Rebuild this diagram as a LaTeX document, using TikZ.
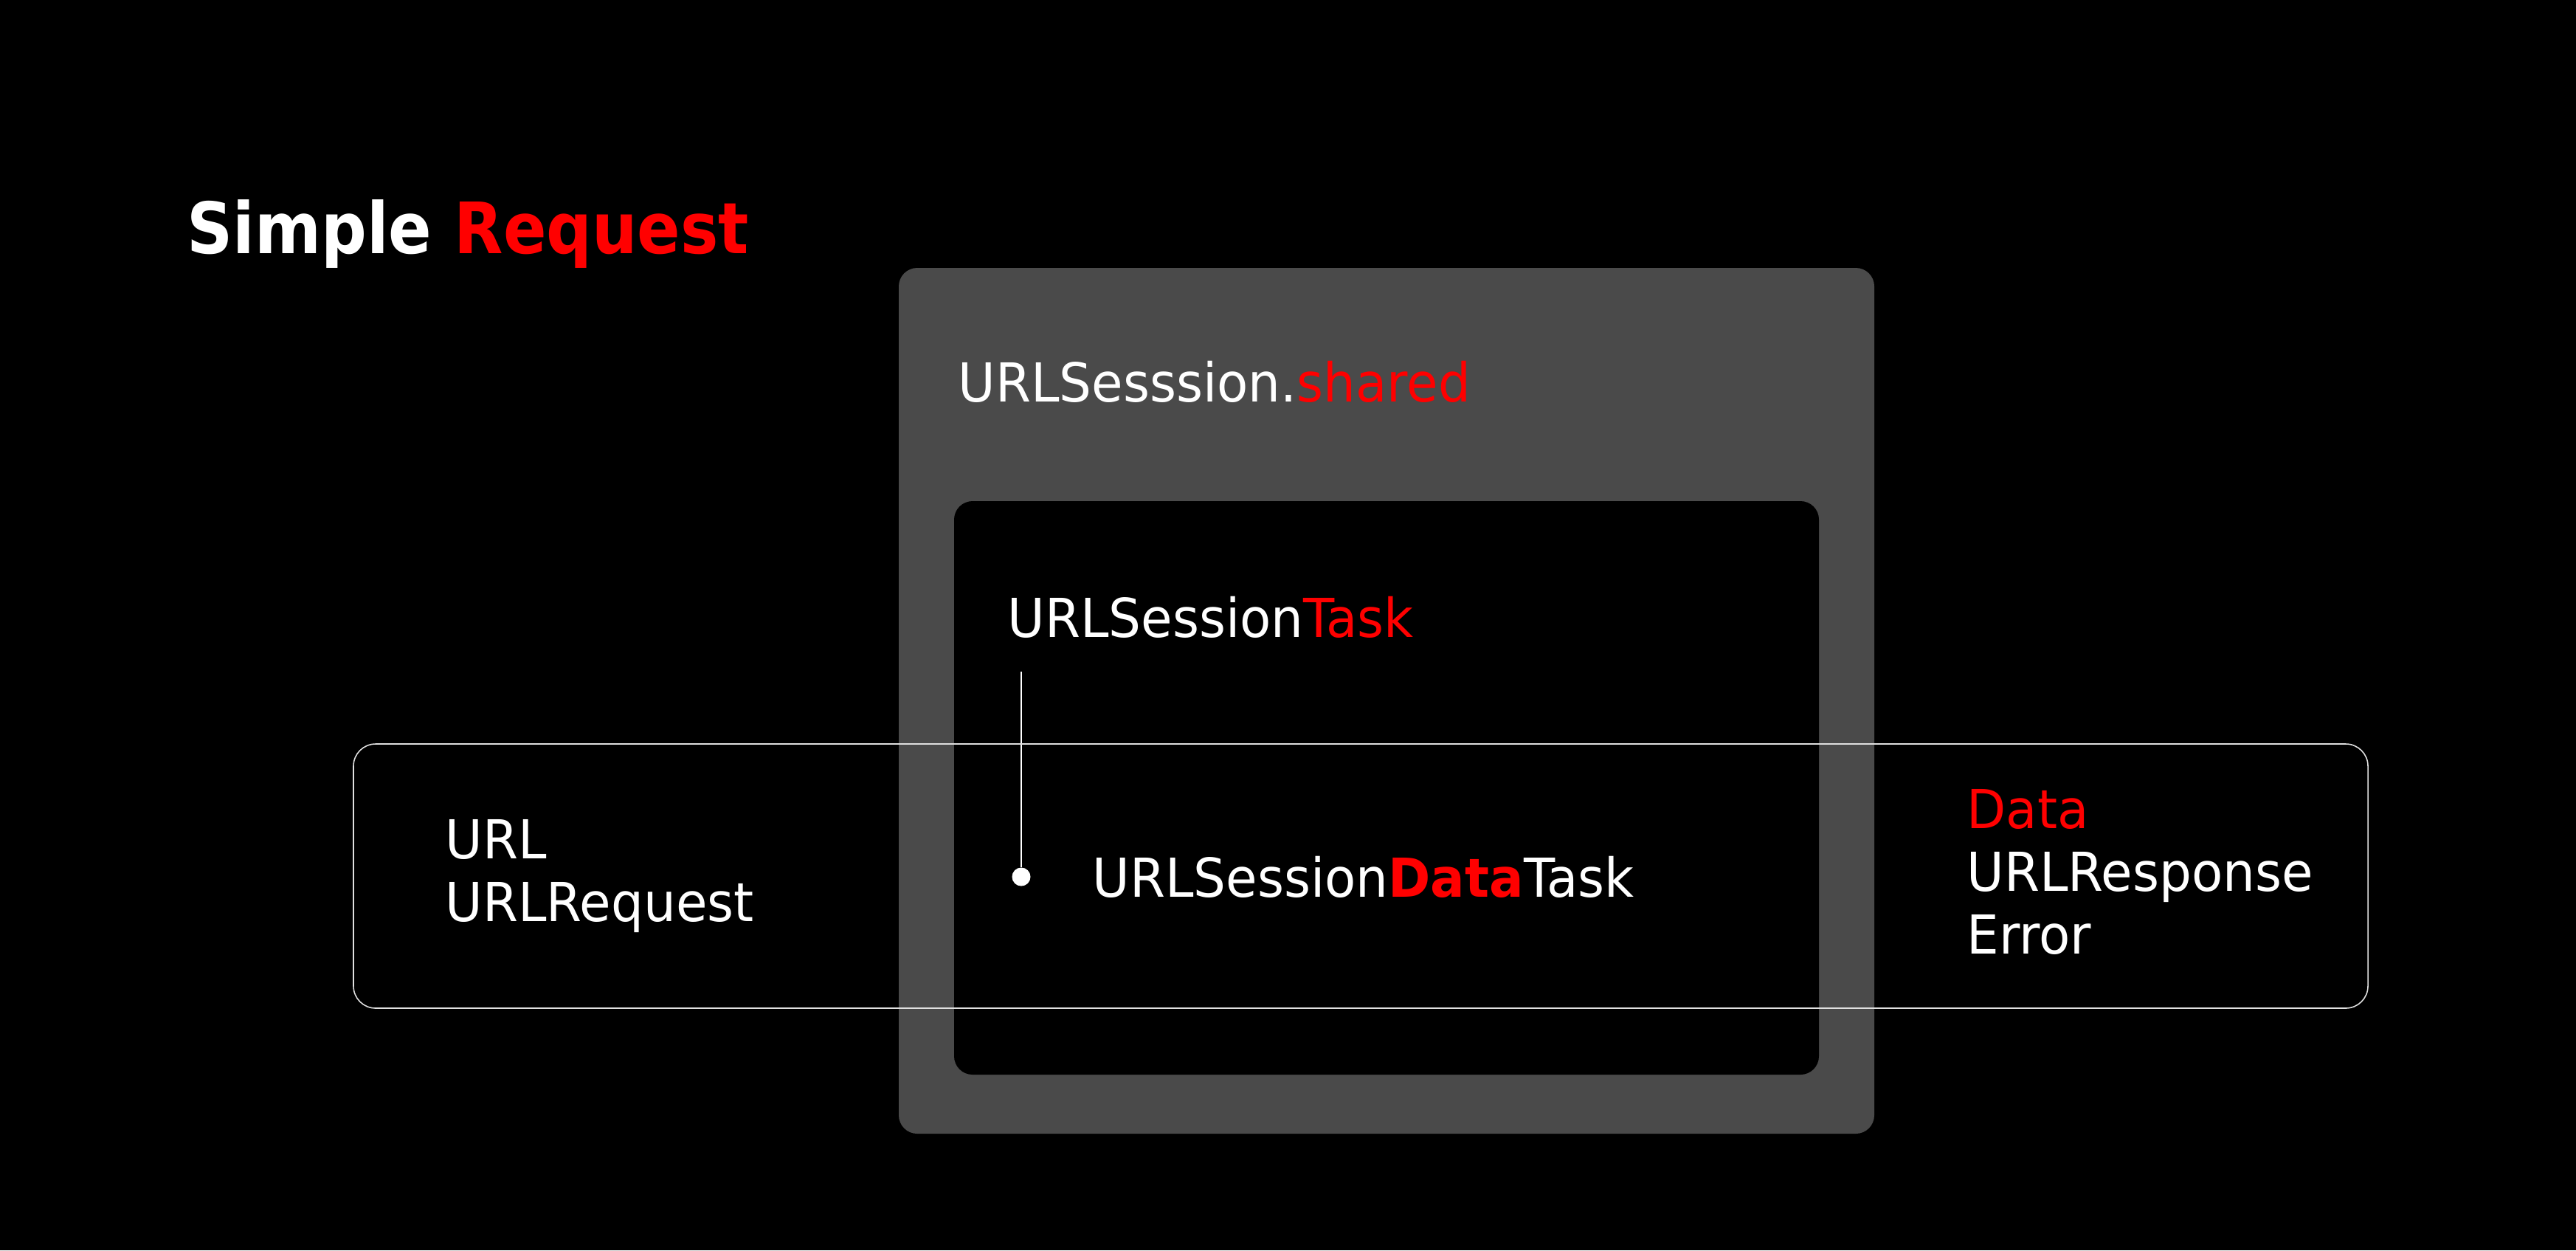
\documentclass[tikz,border=0pt]{standalone}
\usepackage{fontspec}
\setmainfont[FakeStretch=0.95]{DejaVu Sans}
\usetikzlibrary{positioning}
\definecolor{boxgray}{HTML}{4A4A4A}
\definecolor{keyred}{HTML}{FF0000}
\definecolor{bandline}{HTML}{E0E0E0}

\begin{document}
\begin{tikzpicture}[
        lbl/.style={white, anchor=base west, inner sep=0pt, font=\fontsize{20.7}{24}\selectfont},
        ttl/.style={white, anchor=base west, inner sep=0pt, font=\fontsize{27.3}{32}\selectfont\bfseries\addfontfeature{FakeStretch=0.9}},
        panel/.style={rounded corners=0.25cm, inner sep=0pt, draw=none},
        hot/.style={keyred}
    ]
                \fill[black] (0,0) rectangle (34.91,-16.94);
                \useasboundingbox (0,0) rectangle (34.91,-16.94);
                \node[ttl] (title) at (2.53,-3.43) {Simple \textcolor{keyred}{Request}};
                \node[panel, fill=boxgray, minimum width=13.22cm, minimum height=11.73cm] (session) at (18.79,-9.495) {};
                \node[panel, fill=black, minimum width=11.72cm, minimum height=7.77cm] (taskbox) at (18.79,-10.675) {};
                \node[lbl] (shared) at (12.98,-5.44) {URLSesssion.\textcolor{keyred}{shared}};
                \node[lbl] (task) at (13.65,-8.63) {URLSession\textcolor{keyred}{Task}};
                \node[circle, fill=white, inner sep=0pt, minimum size=0.25cm] (dot) at (13.84,-11.88) {};
                \coordinate (stem) at (13.84,-9.10);
                \draw[white, line width=0.6pt] (stem) -- (dot);
                \node[lbl] (datatask) at (14.80,-12.15) {URLSession\textcolor{keyred}{\bfseries Data}Task};
                \node[draw=bandline, line width=0.45pt, rounded corners=0.3cm, minimum width=27.30cm, minimum height=3.58cm] (band) at (18.44,-11.87) {};
                \node[lbl] (url) at (6.03,-11.63) {URL};
                \node[lbl, below=0.85cm of url.base west, anchor=base west] (request) {URLRequest};
                \node[lbl, hot] (data) at (26.65,-11.22) {Data};
                \node[lbl, below=0.85cm of data.base west, anchor=base west] (response) {URLResponse};
                \node[lbl, below=0.85cm of response.base west, anchor=base west] (error) {Error};
            \end{tikzpicture}
\end{document}
